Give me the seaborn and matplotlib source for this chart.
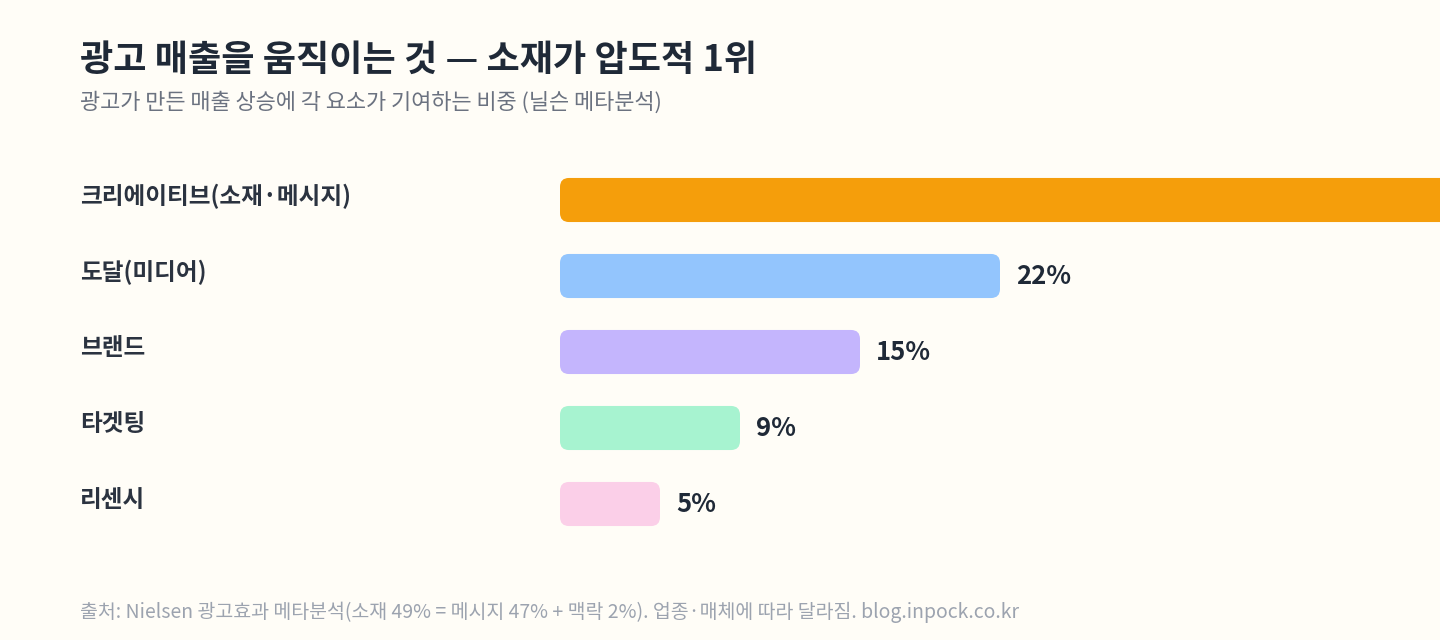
import matplotlib
matplotlib.use("Agg")
import matplotlib.pyplot as plt
from matplotlib.patches import FancyBboxPatch
from matplotlib.transforms import blended_transform_factory
import seaborn as sns
import pandas as pd

# data
categories = ["크리에이티브(소재·메시지)", "도달(미디어)", "브랜드", "타겟팅", "리센시"]
shares = [49, 22, 15, 9, 5]
bar_colors = ["#f59e0b", "#93c5fd", "#c4b5fd", "#a7f3d0", "#fbcfe8"]

title = "광고 매출을 움직이는 것 — 소재가 압도적 1위"
subtitle = "광고가 만든 매출 상승에 각 요소가 기여하는 비중 (닐슨 메타분석)"
footnote = "출처: Nielsen 광고효과 메타분석(소재 49% = 메시지 47% + 맥락 2%). 업종·매체에 따라 달라짐. blog.inpock.co.kr"

bg = "#fffdf7"
dark = "#1f2937"

sns.set_theme(style="white")
plt.rcParams["font.family"] = ["Noto Sans CJK KR", "DejaVu Sans"]

df = pd.DataFrame({"category": categories, "share": shares})

fig = plt.figure(figsize=(14.4, 6.4), dpi=100, facecolor=bg)
ax = fig.add_axes([560 / 1440, 1 - 542 / 640, 880 / 1440, 380 / 640])
ax.set_facecolor(bg)

sns.barplot(data=df, x="share", y="category", hue="category", palette=bar_colors,
            width=0.58, saturation=1, legend=False, ax=ax, orient="h")
xmax = 44
ax.set_xlim(0, xmax)
ax.set_ylim(4.5, -0.5)

# swap square bars for rounded ones
for p in list(ax.patches):
    x0, y0 = p.get_x(), p.get_y()
    w, h = p.get_width(), p.get_height()
    fc = p.get_facecolor()
    p.remove()
    ax.add_patch(FancyBboxPatch((x0, y0), w, h,
                                boxstyle="round,pad=0,rounding_size=0.45",
                                mutation_aspect=20 / 76, fc=fc, ec="none",
                                clip_on=True))

label_tr = blended_transform_factory(fig.transFigure, ax.transData)
for i, (cat, v) in enumerate(zip(categories, shares)):
    if v + 0.8 < xmax:
        ax.text(v + 0.8, i, f"{v}%", va="center", ha="left", fontsize=18.5,
                fontweight="heavy", color=dark)
    ax.text(80 / 1440, i - 0.05, cat, transform=label_tr,
            va="center", ha="left", fontsize=17, fontweight="bold", color="#2b3340")

ax.set_xlabel("")
ax.set_ylabel("")
ax.set_xticks([])
ax.set_yticks([])
for s in ax.spines.values():
    s.set_visible(False)

fig.text(80 / 1440, 1 - 60 / 640, title, fontsize=26, fontweight="heavy",
         color=dark, va="center", ha="left")
fig.text(80 / 1440, 1 - 103 / 640, subtitle, fontsize=15.8, color="#6b7280",
         va="center", ha="left")
fig.text(80 / 1440, 1 - 612 / 640, footnote, fontsize=14, color="#9ca3af",
         va="center", ha="left")

fig.savefig("out.png", dpi=100, facecolor=bg)
